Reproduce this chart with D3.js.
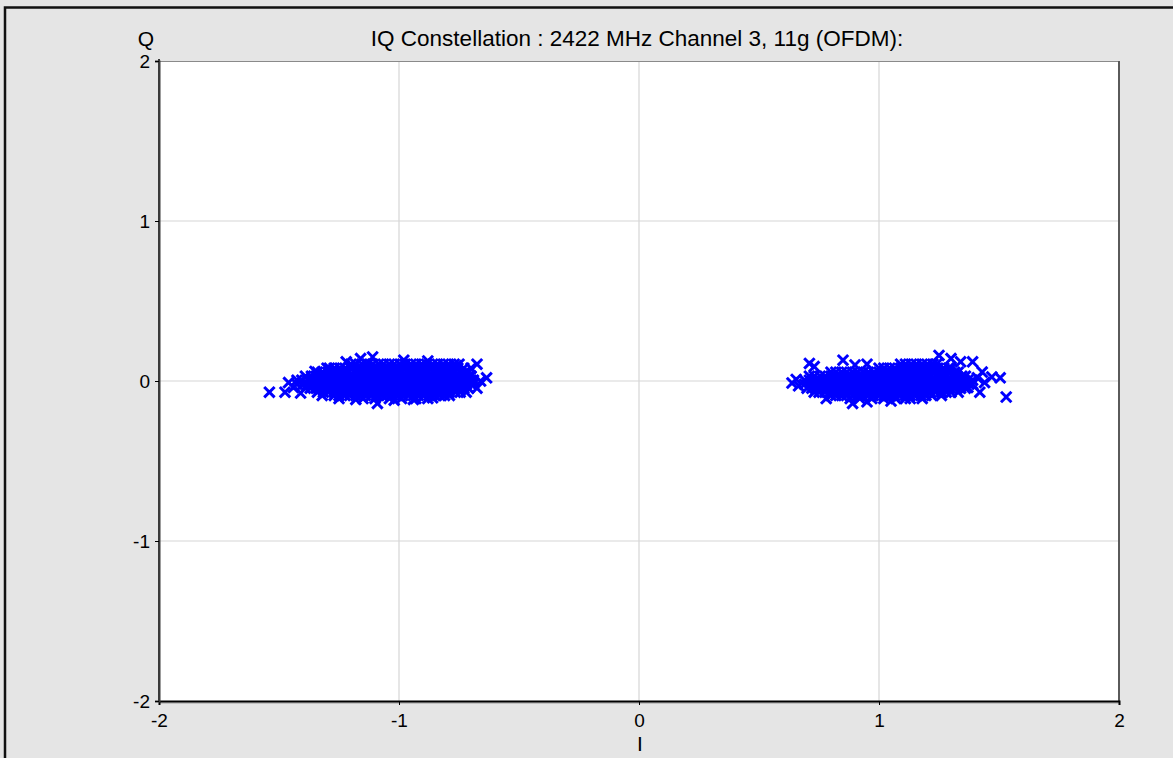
<!DOCTYPE html>
<html>
<head>
<meta charset="utf-8">
<script src="https://cdn.jsdelivr.net/npm/d3@7"></script>
<style>
  body { margin: 0; background: #e5e5e5; }
  svg text { font-family: "Liberation Sans", Arial, sans-serif; fill: #000; }
</style>
</head>
<body>
<svg id="iq-svg"></svg>
<script>
const titleText = "IQ Constellation : 2422 MHz Channel 3, 11g (OFDM):";
const xTicks = [-2, -1, 0, 1, 2];
const yTicks = [-2, -1, 0, 1, 2];

// Q level of each row of the dense cluster cores
const rowQ = [0.105, 0.08, 0.055, 0.03, 0.005, -0.02, -0.045, -0.07, -0.09, -0.11];

// left cluster (symbol -1): I values for each row
const leftRowI = [
  [-1.2, -1.18, -1.155, -1.13, -1.11, -1.085, -1.065, -1.04, -1.02, -0.995, -0.975, -0.95, -0.93, -0.905, -0.885, -0.86, -0.84, -0.815, -0.795, -0.77, -0.75],
  [-1.29, -1.27, -1.245, -1.225, -1.2, -1.175, -1.155, -1.13, -1.11, -1.09, -1.065, -1.045, -1.02, -1.0, -0.98, -0.955, -0.935, -0.91, -0.89, -0.865, -0.845, -0.82, -0.8, -0.78, -0.755, -0.73],
  [-1.34, -1.32, -1.295, -1.275, -1.25, -1.23, -1.21, -1.185, -1.165, -1.14, -1.12, -1.1, -1.075, -1.055, -1.03, -1.01, -0.99, -0.965, -0.945, -0.92, -0.9, -0.88, -0.855, -0.835, -0.81, -0.79, -0.77, -0.745, -0.725, -0.71],
  [-1.39, -1.365, -1.345, -1.32, -1.3, -1.28, -1.255, -1.235, -1.21, -1.19, -1.17, -1.145, -1.125, -1.1, -1.08, -1.06, -1.035, -1.015, -0.99, -0.97, -0.95, -0.925, -0.905, -0.88, -0.86, -0.84, -0.815, -0.795, -0.77, -0.75, -0.73, -0.71, -0.7],
  [-1.425, -1.405, -1.38, -1.36, -1.335, -1.315, -1.29, -1.27, -1.25, -1.225, -1.205, -1.18, -1.16, -1.14, -1.115, -1.095, -1.07, -1.05, -1.03, -1.005, -0.985, -0.96, -0.94, -0.92, -0.895, -0.875, -0.85, -0.83, -0.81, -0.785, -0.765, -0.74, -0.72, -0.7, -0.69],
  [-1.425, -1.4, -1.38, -1.355, -1.335, -1.31, -1.29, -1.27, -1.245, -1.225, -1.2, -1.18, -1.16, -1.135, -1.115, -1.09, -1.07, -1.05, -1.025, -1.005, -0.98, -0.96, -0.94, -0.915, -0.895, -0.87, -0.85, -0.83, -0.805, -0.785, -0.76, -0.74, -0.72, -0.7, -0.69],
  [-1.39, -1.37, -1.345, -1.325, -1.3, -1.28, -1.26, -1.235, -1.215, -1.19, -1.17, -1.15, -1.125, -1.105, -1.08, -1.06, -1.04, -1.015, -0.995, -0.97, -0.95, -0.93, -0.905, -0.885, -0.86, -0.84, -0.82, -0.795, -0.775, -0.75, -0.73, -0.71],
  [-1.34, -1.315, -1.295, -1.27, -1.25, -1.23, -1.205, -1.185, -1.16, -1.14, -1.12, -1.095, -1.075, -1.05, -1.03, -1.01, -0.985, -0.965, -0.94, -0.92, -0.9, -0.875, -0.855, -0.83, -0.81, -0.79, -0.765, -0.745],
  [-1.27, -1.25, -1.225, -1.205, -1.18, -1.16, -1.14, -1.115, -1.095, -1.07, -1.05, -1.03, -1.005, -0.985, -0.96, -0.94, -0.92, -0.895, -0.875, -0.85, -0.83, -0.81, -0.79],
  [-1.15, -1.1, -1.04, -0.99, -0.93, -0.88]
];
const leftExtra = [
  [-1.54, -0.07], [-1.475, -0.07], [-1.41, -0.075], [-1.44, -0.04], [-1.46, -0.01],
  [-0.635, 0.02], [-0.675, 0.105], [-0.675, -0.045], [-0.66, 0.0], [-0.7, 0.08],
  [-1.09, -0.14], [-1.16, 0.14], [-1.11, 0.15], [-1.22, 0.12], [-1.3, 0.08], [-1.35, 0.06],
  [-1.25, -0.11], [-1.18, -0.115], [-1.02, -0.12], [-0.94, -0.115], [-0.86, -0.105],
  [-0.98, 0.13], [-0.88, 0.125], [-0.76, 0.095], [-1.32, -0.09], [-0.72, -0.07]
];

// right cluster (symbol +1): I values for each row
const rightRowI = [
  [1.09, 1.11, 1.135, 1.155, 1.18, 1.2, 1.225, 1.24],
  [1.0, 1.02, 1.045, 1.065, 1.09, 1.11, 1.135, 1.155, 1.18, 1.2, 1.225, 1.245, 1.27, 1.29, 1.3],
  [0.8, 0.82, 0.845, 0.865, 0.89, 0.91, 0.935, 0.955, 0.98, 1.0, 1.025, 1.045, 1.07, 1.09, 1.115, 1.135, 1.16, 1.18, 1.205, 1.225, 1.25, 1.27, 1.295, 1.315, 1.33],
  [0.71, 0.73, 0.755, 0.775, 0.8, 0.82, 0.84, 0.865, 0.885, 0.91, 0.93, 0.95, 0.975, 0.995, 1.02, 1.04, 1.06, 1.085, 1.105, 1.13, 1.15, 1.17, 1.195, 1.215, 1.24, 1.26, 1.28, 1.305, 1.325, 1.345, 1.36],
  [0.69, 0.71, 0.735, 0.755, 0.78, 0.8, 0.825, 0.845, 0.865, 0.89, 0.91, 0.935, 0.955, 0.975, 1.0, 1.02, 1.045, 1.065, 1.085, 1.11, 1.13, 1.155, 1.175, 1.195, 1.22, 1.24, 1.265, 1.285, 1.305, 1.33, 1.35, 1.37, 1.39],
  [0.69, 0.715, 0.735, 0.76, 0.78, 0.8, 0.825, 0.845, 0.87, 0.89, 0.91, 0.935, 0.955, 0.98, 1.0, 1.02, 1.045, 1.065, 1.09, 1.11, 1.13, 1.155, 1.175, 1.2, 1.22, 1.24, 1.265, 1.285, 1.31, 1.33, 1.35, 1.375, 1.39],
  [0.7, 0.72, 0.745, 0.765, 0.79, 0.81, 0.83, 0.855, 0.875, 0.9, 0.92, 0.94, 0.965, 0.985, 1.01, 1.03, 1.05, 1.075, 1.095, 1.12, 1.14, 1.16, 1.185, 1.205, 1.23, 1.25, 1.27, 1.295, 1.315, 1.34, 1.36],
  [0.73, 0.75, 0.775, 0.795, 0.82, 0.84, 0.86, 0.885, 0.905, 0.93, 0.95, 0.97, 0.995, 1.015, 1.04, 1.06, 1.08, 1.105, 1.125, 1.15, 1.17, 1.19, 1.215, 1.235, 1.26, 1.28, 1.3],
  [0.8, 0.82, 0.845, 0.865, 0.89, 0.91, 0.93, 0.955, 0.975, 1.0, 1.02, 1.04, 1.065, 1.085, 1.11, 1.13, 1.15, 1.175, 1.195, 1.22],
  [0.88, 0.92, 0.97, 1.02, 1.07, 1.11, 1.13]
];
const rightExtra = [
  [0.6375, -0.0125], [0.655, 0.01], [0.665, -0.03], [0.73, 0.09], [0.71, 0.11],
  [0.85, 0.13], [0.9, 0.1], [0.95, 0.105], [1.25, 0.16], [1.3, 0.14], [1.34, 0.12],
  [1.39, 0.12], [1.43, 0.056], [1.41, 0.02], [1.47, 0.025], [1.505, 0.02], [1.53, -0.1],
  [1.42, -0.07], [1.37, -0.04], [1.44, -0.01], [0.78, -0.11], [0.89, -0.14],
  [0.95, -0.13], [1.05, -0.125], [1.18, -0.11], [1.26, -0.09], [1.33, -0.07]
];

(function () {
    const width = 1173, height = 758;
    const plot = { left: 159, right: 1119, top: 61, bottom: 701 };

    const svg = d3.select("#iq-svg")
        .attr("width", width)
        .attr("height", height)
        .style("display", "block");

    // grey panel with the dark edge on top and left
    svg.append("rect")
        .attr("width", width).attr("height", height)
        .attr("fill", "#e5e5e5");
    svg.append("path")
        .attr("d", `M5,${height} V7.5 H${width}`)
        .attr("fill", "none")
        .attr("stroke", "#111")
        .attr("stroke-width", 2.5);

    const x = d3.scaleLinear().domain([-2, 2]).range([plot.left, plot.right]);
    const y = d3.scaleLinear().domain([-2, 2]).range([plot.bottom, plot.top]);

    svg.append("rect")
        .attr("x", plot.left).attr("y", plot.top)
        .attr("width", plot.right - plot.left)
        .attr("height", plot.bottom - plot.top)
        .attr("fill", "#fff");

    // grid
    svg.append("g").selectAll("line.vgrid")
        .data(xTicks.slice(1, -1))
        .enter().append("line")
        .attr("class", "vgrid")
        .attr("x1", d => x(d)).attr("x2", d => x(d))
        .attr("y1", plot.top).attr("y2", plot.bottom)
        .attr("stroke", "#d6d6d6").attr("stroke-width", 1.2);
    svg.append("g").selectAll("line.hgrid")
        .data(yTicks.slice(1, -1))
        .enter().append("line")
        .attr("class", "hgrid")
        .attr("y1", d => y(d)).attr("y2", d => y(d))
        .attr("x1", plot.left).attr("x2", plot.right)
        .attr("stroke", "#d6d6d6").attr("stroke-width", 1.2);

    // points
    const points = [];
    [leftRowI, rightRowI].forEach(rows => {
        rows.forEach((vals, r) => vals.forEach(v => points.push([v, rowQ[r]])));
    });
    leftExtra.forEach(p => points.push(p));
    rightExtra.forEach(p => points.push(p));

    const a = 5.2;
    svg.append("g").selectAll("path.pt")
        .data(points)
        .enter().append("path")
        .attr("class", "pt")
        .attr("transform", d => `translate(${x(d[0])},${y(d[1])})`)
        .attr("d", `M${-a},${-a}L${a},${a}M${-a},${a}L${a},${-a}`)
        .attr("fill", "none")
        .attr("stroke", "#0000ff")
        .attr("stroke-width", 3);

    // frame
    svg.append("line").attr("x1", plot.left).attr("x2", plot.right)
        .attr("y1", plot.top + 0.5).attr("y2", plot.top + 0.5)
        .attr("stroke", "#8a8a8a").attr("stroke-width", 1);
    svg.append("line").attr("x1", plot.right).attr("x2", plot.right)
        .attr("y1", plot.top).attr("y2", plot.bottom)
        .attr("stroke", "#5a5a5a").attr("stroke-width", 2);
    svg.append("line").attr("x1", plot.left).attr("x2", plot.left)
        .attr("y1", plot.top - 2).attr("y2", plot.bottom)
        .attr("stroke", "#3a3a3a").attr("stroke-width", 2);
    svg.append("line").attr("x1", plot.left).attr("x2", plot.right)
        .attr("y1", plot.bottom + 2).attr("y2", plot.bottom + 2)
        .attr("stroke", "#a0a0a0").attr("stroke-width", 1);

    // axes
    const xAxis = svg.append("g")
        .attr("transform", `translate(0,${plot.bottom})`)
        .call(d3.axisBottom(x).tickValues(xTicks).tickFormat(d3.format("d"))
            .tickSize(4).tickPadding(9));
    const yAxis = svg.append("g")
        .attr("transform", `translate(${plot.left},0)`)
        .call(d3.axisLeft(y).tickValues(yTicks).tickFormat(d3.format("d"))
            .tickSize(4).tickPadding(5));
    [xAxis, yAxis].forEach(g => {
        g.select(".domain").attr("stroke", "#000").attr("stroke-width", 2);
        g.selectAll(".tick line").attr("stroke", "#000");
        g.selectAll(".tick text")
            .attr("font-family", "Liberation Sans, Arial, sans-serif")
            .attr("font-size", 19)
            .attr("fill", "#000");
    });
    yAxis.select(".domain").attr("stroke", "#3a3a3a");
    // d3 uses unicode minus; the reference uses a plain hyphen
    svg.selectAll(".tick text").text(d => String(d));

    svg.append("text")
        .attr("x", 637).attr("y", 46)
        .attr("text-anchor", "middle")
        .attr("font-size", 22.5)
        .text(titleText);
    svg.append("text")
        .attr("x", 146).attr("y", 46)
        .attr("text-anchor", "middle")
        .attr("font-size", 21)
        .text("Q");
    svg.append("text")
        .attr("x", 640).attr("y", 751)
        .attr("text-anchor", "middle")
        .attr("font-size", 21)
        .text("I");
})();
</script>
</body>
</html>
